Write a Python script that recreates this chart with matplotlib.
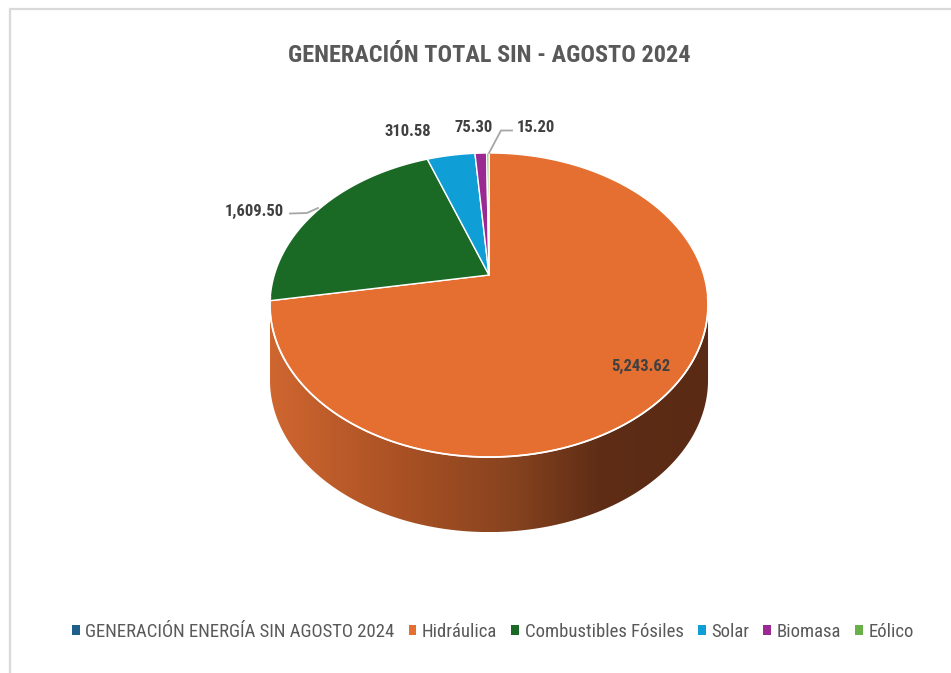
import numpy as np
import matplotlib
matplotlib.use('Agg')
import matplotlib.pyplot as plt
from matplotlib.patches import Polygon, Rectangle
from matplotlib import font_manager
from matplotlib.colors import LinearSegmentedColormap

# ---------------- data ----------------
title = 'GENERACIÓN TOTAL SIN - AGOSTO 2024'
categories = ['GENERACIÓN ENERGÍA SIN AGOSTO 2024', 'Hidráulica',
              'Combustibles Fósiles', 'Solar', 'Biomasa', 'Eólico']
values = [0.0, 5243.62, 1609.50, 310.58, 75.30, 15.20]
value_labels = ['', '5,243.62', '1,609.50', '310.58', '75.30', '15.20']
colors = ['#1f5f8b', '#e46f30', '#1a6a25', '#109ed6', '#9a2a91', '#6ab04a']

# ---------------- fonts ----------------
def pick_font(names):
    for n in names:
        try:
            font_manager.findfont(font_manager.FontProperties(family=n),
                                  fallback_to_default=False)
            return n
        except Exception:
            pass
    return 'DejaVu Sans'

FONT = pick_font(['Liberation Sans Narrow', 'Roboto Condensed', 'Roboto', 'DejaVu Sans'])
plt.rcParams['font.family'] = [FONT, 'DejaVu Sans']

# ---------------- figure ----------------
W, H = 951, 673
fig = plt.figure(figsize=(W / 100, H / 100), dpi=100)
ax = fig.add_axes([0, 0, 1, 1])
ax.set_xlim(0, W)
ax.set_ylim(H, 0)
ax.axis('off')

# use matplotlib's pie to compute the wedge angles (clockwise from 12 o'clock)
tmp_fig, tmp_ax = plt.subplots()
wedges, _ = tmp_ax.pie(values[1:], startangle=90, counterclock=False)
angles = [(w.theta1, w.theta2) for w in wedges]
plt.close(tmp_fig)

# perspective projection of the pie disc
CX, APEX_Y = 489.0, 275.0
A, B, K = 214.7, 146.1, -0.1976
DEPTH = 75.0


def proj(phi_deg, dz=0.0):
    p = np.radians(phi_deg)
    u = np.cos(p)
    v = -np.sin(p)
    w = 1 + K * v
    return CX + A * u / w, APEX_Y + B * v / w + dz


# ---- side (front wall) with gradient ----
phi_r = -np.degrees(np.arcsin(-K))          # right silhouette
phi_l = -180 + np.degrees(np.arcsin(-K))    # left silhouette
ph = np.linspace(phi_r, phi_l, 300)
tx, ty = proj(ph)
bx, by = proj(ph[::-1], DEPTH)
side_xy = np.column_stack([np.concatenate([tx, bx]), np.concatenate([ty, by])])
side_poly = Polygon(side_xy, closed=True, facecolor='none', edgecolor='none')
ax.add_patch(side_poly)
grad_cmap = LinearSegmentedColormap.from_list(
    'side', [(0.0, '#cf6630'), (0.3, '#a95124'), (0.55, '#87431f'),
             (0.75, '#5f2d16'), (1.0, '#5a2a14')])
xmin, xmax = side_xy[:, 0].min(), side_xy[:, 0].max()
ymin, ymax = side_xy[:, 1].min(), side_xy[:, 1].max()
grad = np.linspace(0, 1, 256).reshape(1, -1)
im = ax.imshow(grad, cmap=grad_cmap, extent=[xmin, xmax, ymax, ymin],
               aspect='auto', zorder=1, interpolation='bilinear')
im.set_clip_path(side_poly)
ax.set_xlim(0, W)
ax.set_ylim(H, 0)

# ---- top face slices ----
for (t1, t2), col in zip(angles, colors[1:]):
    n = max(3, int(abs(t2 - t1) * 2))
    ph = np.linspace(t1, t2, n)
    x, y = proj(ph)
    xs = np.concatenate([[CX], x])
    ys = np.concatenate([[APEX_Y], y])
    ax.add_patch(Polygon(np.column_stack([xs, ys]), closed=True,
                         facecolor=col, edgecolor='white', linewidth=1.0,
                         joinstyle='round', zorder=2))

# white rim at front edge
ph = np.linspace(phi_r + 3, phi_l - 3, 300)
x, y = proj(ph)
ax.plot(x, y, color='white', lw=1.3, zorder=3)

# ---- data labels ----
label_pos = [None, (641, 366), (254, 211), (408, 131), (474, 127), (536, 127)]
for lab, pos in zip(value_labels, label_pos):
    if pos is None:
        continue
    ax.text(pos[0], pos[1], lab, ha='center', va='center', fontsize=12,
            fontweight='bold', color='#404040', zorder=5)

# leader lines
ax.plot([290, 307, 318], [213.5, 213, 208], color='#a6a6a6', lw=1.3, zorder=4)
ax.plot([489, 501, 512], [153, 130.5, 130.5], color='#a6a6a6', lw=1.3, zorder=4)

# ---- title ----
ax.text(489, 55, title, ha='center', va='center', fontsize=17.5,
        fontweight='bold', color='#595959')

# ---- border ----
ax.plot([9.5, 9.5, W + 5], [H + 5, 8.5, 8.5], color='#d9d9d9', lw=1.6,
        solid_joinstyle='miter')

# ---- legend ----
handles = [Rectangle((0, 0), 1, 1, facecolor=c, edgecolor='none') for c in colors]
leg = fig.legend(handles, categories, loc='center', ncol=6,
                 bbox_to_anchor=(493 / W, 1 - 632 / H), frameon=False,
                 handlelength=0.42, handleheight=0.42, handletextpad=0.3,
                 columnspacing=0.75, fontsize=13.5, labelcolor='#595959',
                 borderaxespad=0, borderpad=0)

fig.savefig('out.png', dpi=100)
